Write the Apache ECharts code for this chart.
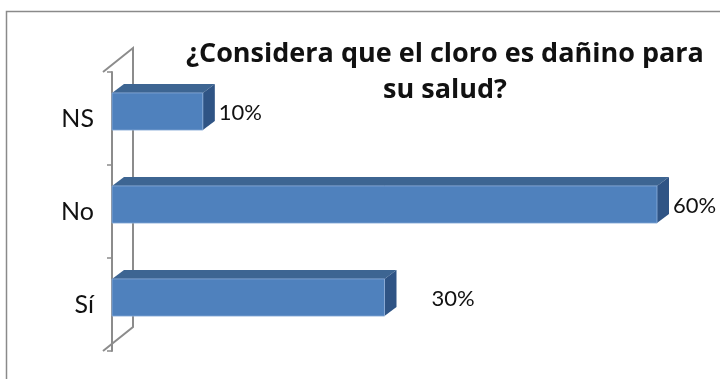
<!DOCTYPE html>
<html>
<head>
<meta charset="utf-8">
<script src="https://cdn.jsdelivr.net/npm/echarts@6/dist/echarts.min.js"></script>
<style>
  html, body { margin: 0; padding: 0; background: #fff; }
  #chart { width: 720px; height: 379px; }
</style>
</head>
<body>
<div id="chart"></div>
<script>
// categories bottom -> top (category axis starts at the bottom)
const categories = ['Sí', 'No', 'NS']
const values = [30, 60, 10]
const titleText = '¿Considera que el cloro es dañino para\nsu salud?'

const chart = echarts.init(document.getElementById('chart'))

const front = '#4F81BD'
const topFace = '#3D6592'
const sideFace = '#2F5485'
const wallColor = '#8C8C8C'
const dx = 12, dy = 9        // bar depth
const wdx = 30, wdy = 24     // wall depth

function renderBar(params, api) {
    const idx = api.value(1)
    const start = api.coord([0, idx])
    const end = api.coord([api.value(0), idx])
    const band = api.size([0, 1])[1]
    const h = band * 0.40
    const cy = start[1] - 7
    const x = start[0], x2 = end[0], y = cy - h / 2
    // the "Sí" label sits further out in the original
    const shift = categories[idx] === 'Sí' ? 31 : 0
    return {
        type: 'group',
        children: [
            { type: 'polygon', shape: { points: [[x, y], [x + dx, y - dy], [x2 + dx, y - dy], [x2, y]] },
              style: { fill: topFace } },
            { type: 'polygon', shape: { points: [[x2, y], [x2 + dx, y - dy], [x2 + dx, y + h - dy], [x2, y + h]] },
              style: { fill: sideFace } },
            { type: 'rect', shape: { x: x, y: y, width: x2 - x, height: h },
              style: { fill: front, stroke: '#8EAEDA', lineWidth: 0.8 } },
            { type: 'text', x: x2 + dx + 4 + shift, y: cy + 1,
              style: { text: api.value(0) + '%', fill: '#111', fontSize: 22, fontFamily: 'Lato',
                       verticalAlign: 'middle', align: 'left' } }
        ]
    }
}

function renderWalls(params, api) {
    const cs = params.coordSys
    const fx = cs.x - 9
    const top = cs.y, bottom = cs.y + cs.height
    const ls = { stroke: wallColor, lineWidth: 2, fill: null }
    return {
        type: 'group',
        children: [
            { type: 'polyline', shape: { points: [[fx, top], [fx + wdx, top - wdy], [fx + wdx, bottom - wdy], [fx, bottom]] },
              style: ls }
        ]
    }
}

chart.setOption({
    backgroundColor: '#fff',
    animation: false,
    title: {
        text: titleText,
        left: 440,
        top: 31,
        textAlign: 'center',
        textStyle: { fontFamily: 'Open Sans', fontWeight: 'bold', fontSize: 27, lineHeight: 36, color: '#111' }
    },
    graphic: [{
        type: 'polyline',
        shape: { points: [[6.5, 379], [6.5, 11.5], [720, 11.5]] },
        style: { stroke: '#8a8a8a', lineWidth: 1.5, fill: null }
    }],
    grid: { left: 112, right: 63, top: 72, bottom: 28 },
    xAxis: {
        type: 'value', min: 0, max: 60, show: false
    },
    yAxis: {
        type: 'category',
        data: categories,
        offset: 9,
        axisLine: { show: true, lineStyle: { color: wallColor, width: 2 } },
        axisTick: { show: true, length: 5, lineStyle: { color: wallColor, width: 1.5 } },
        axisLabel: { color: '#111', fontSize: 25, fontFamily: 'Lato', margin: 9 },
        splitLine: { show: false }
    },
    series: [
        {
            type: 'custom',
            renderItem: renderWalls,
            data: [[0, 0]],
            encode: { x: 0, y: 1 },
            silent: true,
            z: 1
        },
        {
            type: 'custom',
            renderItem: renderBar,
            data: values.map((v, i) => [v, i]),
            encode: { x: 0, y: 1 },
            z: 2
        }
    ]
})
</script>
</body>
</html>
